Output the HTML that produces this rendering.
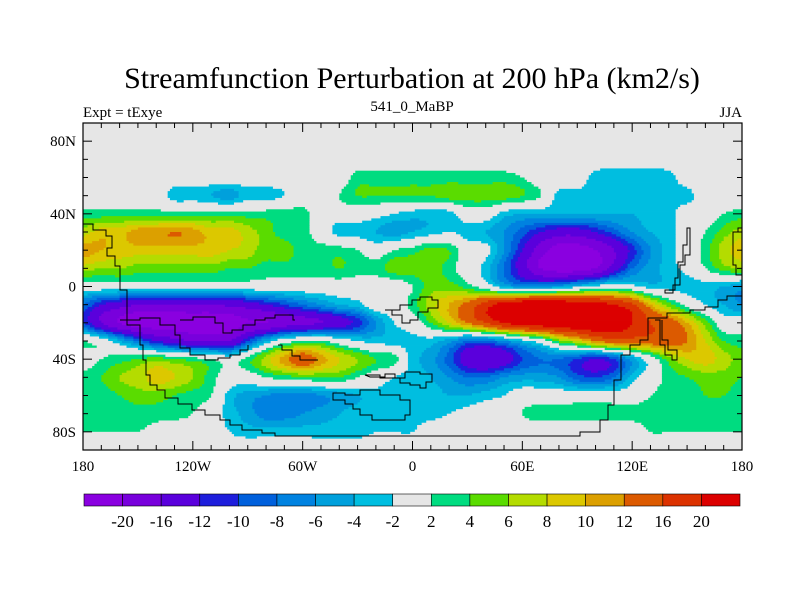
<!DOCTYPE html>
<html><head><meta charset="utf-8"><style>
html,body{margin:0;padding:0;background:#fff;}
svg text{font-family:"Liberation Serif",serif;fill:#000;}
</style></head><body>
<svg id="chart" width="800" height="600" viewBox="0 0 800 600" xmlns="http://www.w3.org/2000/svg">
<text x="412" y="88" font-size="30" text-anchor="middle">Streamfunction Perturbation at 200 hPa (km2/s)</text>
<text x="83" y="117" font-size="15">Expt = tExye</text>
<text x="412" y="111" font-size="15" text-anchor="middle">541_0_MaBP</text>
<text x="742" y="117" font-size="15" text-anchor="end">JJA</text>
<g id="field"></g>
<g id="coast" fill="none" stroke="#000" stroke-width="1"></g>
<g id="axes"></g>
<g id="cbar"></g>
</svg>
<script>
const lons=[-180,-170,-160,-150,-140,-130,-120,-110,-100,-90,-80,-70,-60,-50,-40,-30,-20,-10,0,10,20,30,40,50,60,70,80,90,100,110,120,130,140,150,160,170,180];
const lats=[90,80,70,60,50,40,30,20,10,0,-10,-20,-30,-40,-50,-60,-70,-80,-90];
const rowN90=[0,0,0,0,0,0,0,0,0,0,0,0,0,0,0,0,0,0,0,0,0,0,0,0,0,0,0,0,0,0,0,0,0,0,0,0,0];
const rowN80=[0,0,0,0,0,0,0,0,0,0,0,0,0,0,0,0,0,0,0,0,0,0,0,0,0,0,0,0,0,0,0,0,0,0,0,0,0];
const rowN70=[0,0,0,0,0,0,0,0,0,0,0,0,0,0,0,0,0,0,0,0,0,0,0,0,0,0,0,0,0,-1,-1,-1,0,0,0,0,0];
const rowN60=[0,0,0,0,0,0,0,0,0,0,0,0,0,0,0,3,3,3,3,3,3,3,3,3,2,0,0,0,-3,-3,-3,-3,-3,0,0,0,0];
const rowN50=[0,0,0,0,0,-3,-3,-4,-5,-3,-3,-2,0,0,2,4,4,4,4,4,5,5,5,5,4,2,-3,-3,-3,-3,-3,-3,-3,-3,0,0,0];
const rowN40=[3,3,3,3,3,3,3,3,3,3,3,3,3,0,0,0,-1,-2,-3,-3,-3,0,0,-3,-4,-4,-4,-4,-4,-4,-4,-3,-3,0,0,2,3];
const rowN30=[7,9,9,11,11,12,11,9,9,7,5,3,3,0,-3,-3,-4,-5,-4,-3,-2,-3,-4,-6,-9,-12,-14,-14,-12,-9,-6,-4,-3,0,2,5,7];
const rowN20=[11,10,9,9,9,9,9,9,8,7,5,5,3,3,3,2,0,2,3,5,4,0,-1,-6,-12,-18,-22,-22,-20,-16,-11,-6,-3,0,3,7,9];
const rowN10=[7,6,6,5,5,5,5,5,4,4,3,3,3,3,4,3,3,5,5,5,3,0,-3,-8,-14,-20,-22,-22,-20,-14,-8,-5,-3,-1,2,5,6];
const rowEq=[0,0,0,0,0,0,0,0,0,0,0,0,0,0,0,0,0,0,2,5,5,3,0,-4,-6,-6,-5,-3,-1,0,-1,-3,-3,-3,-3,-4,-5];
const rowS10=[-8,-12,-14,-16,-16,-16,-16,-16,-15,-14,-12,-10,-8,-6,-4,-3,0,0,3,7,10,13,18,22,24,24,24,23,22,20,17,10,5,1,-2,-4,-6];
const rowS20=[-10,-16,-20,-22,-22,-22,-22,-22,-22,-20,-20,-18,-17,-16,-14,-11,-6,-2,0,4,8,12,16,20,22,23,24,24,24,23,20,16,14,10,5,0,0];
const rowS30=[2,0,-4,-8,-12,-14,-16,-16,-16,-10,-4,0,2,2,0,-2,-3,-3,-3,-3,-5,-8,-8,-6,-3,0,5,8,12,14,14,14,14,12,8,4,3];
const rowS40=[0,2,3,4,5,4,3,2,0,3,7,11,14,11,8,6,4,3,-3,-5,-9,-14,-16,-14,-10,-8,-8,-10,-12,-10,-5,0,5,8,9,7,5];
const rowS50=[3,4,6,7,9,8,6,3,0,0,2,3,4,4,4,2,0,-2,-3,-4,-6,-8,-8,-6,-5,-5,-6,-9,-10,-8,-3,0,3,4,5,5,4];
const rowS60=[3,3,4,5,5,4,3,2,-3,-5,-6,-7,-7,-6,-5,-4,-3,-3,-3,-3,-4,-4,-3,-2,0,0,0,0,0,0,0,2,3,3,4,4,3];
const rowS70=[3,3,3,3,3,3,2,0,-3,-5,-7,-7,-6,-5,-4,-3,-3,-3,-3,-3,-2,-1,0,0,2,3,3,3,3,3,3,3,3,3,3,3,3];
const rowS80=[2,2,2,2,1,0,0,0,-2,-3,-3,-3,-3,-3,-3,-3,-2,-2,-2,0,0,0,0,0,0,0,0,0,0,0,0,2,2,2,2,2,2];
const rowS90=[0,0,0,0,0,0,0,0,0,0,0,0,0,0,0,0,0,0,0,0,0,0,0,0,0,0,0,0,0,0,0,0,0,0,0,0,0];
const grid=[rowN90,rowN80,rowN70,rowN60,rowN50,rowN40,rowN30,rowN20,rowN10,rowEq,rowS10,rowS20,rowS30,rowS40,rowS50,rowS60,rowS70,rowS80,rowS90];
const levels=[-20,-16,-12,-10,-8,-6,-4,-2,2,4,6,8,10,12,16,20];
const colors=["#8a00e0","#7800dc","#5a00dc","#1e1edc","#0060dc","#0082e0","#00a0dc","#00bee0","#e6e6e6","#00dc80","#5adc00","#b4dc00","#dcc800","#dca000","#dc5a00","#dc3200","#dc0000"];
const xTicks=[-180,-120,-60,0,60,120,180];
const xTickLabels=["180","120W","60W","0","60E","120E","180"];
const yTicks=[80,40,0,-40,-80];
const yTickLabels=["80N","40N","0","40S","80S"];

const NS="http://www.w3.org/2000/svg";
const X0=83,X1=742,Y0=123,Y1=450;
function xOf(lon){return X0+(lon+180)/360*(X1-X0);}
function yOf(lat){return Y0+(90-lat)/180*(Y1-Y0);}
function mk(tag,attrs,parent){const e=document.createElementNS(NS,tag);for(const k in attrs)e.setAttribute(k,attrs[k]);parent.appendChild(e);return e;}
function g(r,c){r=Math.max(0,Math.min(lats.length-1,r));c=Math.max(0,Math.min(lons.length-1,c));return grid[r][c];}
function cr(p0,p1,p2,p3,t){return 0.5*((2*p1)+(-p0+p2)*t+(2*p0-5*p1+4*p2-p3)*t*t+(-p0+3*p1-3*p2+p3)*t*t*t);}
function sample(lon,lat){
  const fc=(lon-lons[0])/10, fr=(lats[0]-lat)/10;
  const c=Math.floor(fc), r=Math.floor(fr), tc=fc-c, tr=fr-r;
  const rows=[];
  for(let i=-1;i<=2;i++){rows.push(cr(g(r+i,c-1),g(r+i,c),g(r+i,c+1),g(r+i,c+2),tc));}
  return cr(rows[0],rows[1],rows[2],rows[3],tr);
}
function colorOf(v){let i=0;while(i<levels.length&&v>=levels[i])i++;return colors[i];}
const field=document.getElementById('field');
const step=1.25;
for(let lat=90;lat>-90;lat-=step){
  let runStart=-180,runColor=null;
  for(let lon=-180;lon<=180;lon+=step){
    const col= lon<180 ? colorOf(sample(lon+step/2,lat-step/2)) : null;
    if(col!==runColor){
      if(runColor!==null){
        const r=mk('rect',{x:xOf(runStart).toFixed(2),y:yOf(lat).toFixed(2),width:(xOf(lon)-xOf(runStart)+0.4).toFixed(2),height:(yOf(lat-step)-yOf(lat)+0.4).toFixed(2),fill:runColor},field);
        
        
      }
      runStart=lon;runColor=col;
    }
  }
}
const coastPaths=[
"M83,224 H93 V230 H106 V236 H112 V248 H107 V256 H115 V266 H120 V290 H127 V325 H140 V345 H143 V360 H146 V375 H150 V385 H157 V390 H165 V398 H178 V404 H192 V410 H205 V415 H220 V420 H230 V425 H242 V430 H262 V433 H275 V436 H580 V432 H600 V420 H608 V405 H614 V380 H621 V355 H630 V345 H640 V340 H648 V318 H667 V313 H690 V310 H705 V307 H718 V300 H727 V296 H742",
"M120,320 H140 V318 H160 V325 H175 V335 H180 V348 H190 V355 H205 V360 H218 V358 H230 V355 H240 V350 H248 V345",
"M180,320 H193 V317 H215 V323 H223 V333 H232 V330 H243 V325 H255 V320 H265 V318 H275 V315 H293 V320 H295",
"M278,345 H282 V350 H292 V356 H300 V360 H318",
"M333,400 H345 V404 H353 V409 H360 V415 H372 V420 H405 V415 H410 V400 H400 V395 H380 V390 H360 V395 H345 V393 H333 Z",
"M365,375 H380 V378 H400 V383 H410 V385 H420 V388 H426 V382 H432 V374 H420 V372 H405 V378 H395 V374 H385 V377 H370 Z",
"M385,310 H392 V315 H402 V323 H410 V320 H418 V312 H428 V308 H438 V300 H432 V297 H420 V300 H412 V305 H400 V310 Z",
"M655,320 H660 V345 H665 V355 H672 V360 H677 V350 H668 V340 H662 V320",
"M665,290 H675 V278 H678 V262 H683 V245 H687 V228 H690 V255 H685 V265 H680 V285 H673 V293 H665 Z",
"M742,228 H738 V232 H733 V265 H736 V275 H742"
];
const coast=document.getElementById('coast');
coastPaths.forEach(d=>{const p=mk('path',{d:d},coast);});
const axes=document.getElementById('axes');
const frame=mk('rect',{x:X0,y:Y0,width:X1-X0,height:Y1-Y0,fill:'none',stroke:'#000','stroke-width':1.2},axes);


for(let lon=-180;lon<=180;lon+=10){
  const major=lon%60===0, L=major?9:5, x=xOf(lon);
  mk('line',{x1:x,y1:Y1,x2:x,y2:Y1-L,stroke:'#000'},axes);
  mk('line',{x1:x,y1:Y0,x2:x,y2:Y0+L,stroke:'#000'},axes);
}
for(let lat=-80;lat<=80;lat+=10){
  const major=lat%40===0, L=major?9:5, y=yOf(lat);
  mk('line',{x1:X0,y1:y,x2:X0+L,y2:y,stroke:'#000'},axes);
  mk('line',{x1:X1,y1:y,x2:X1-L,y2:y,stroke:'#000'},axes);
}
xTicks.forEach((v,i)=>{const t=mk('text',{x:xOf(v),y:471,'font-size':15,'text-anchor':'middle'},axes);t.textContent=xTickLabels[i];

});
yTicks.forEach((v,i)=>{const t=mk('text',{x:76,y:yOf(v)+5,'font-size':15,'text-anchor':'end'},axes);t.textContent=yTickLabels[i];

});
const cbar=document.getElementById('cbar');
const CB0=84,CB1=740,CBY=494,CBH=12,bw=(CB1-CB0)/colors.length;
colors.forEach((c,i)=>{const r=mk('rect',{x:CB0+i*bw,y:CBY,width:bw,height:CBH,fill:c,stroke:'#000','stroke-width':0.6},cbar);

});
levels.forEach((v,i)=>{const t=mk('text',{x:CB0+(i+1)*bw,y:527,'font-size':17,'text-anchor':'middle'},cbar);t.textContent=String(v);

});
</script>
</body></html>
